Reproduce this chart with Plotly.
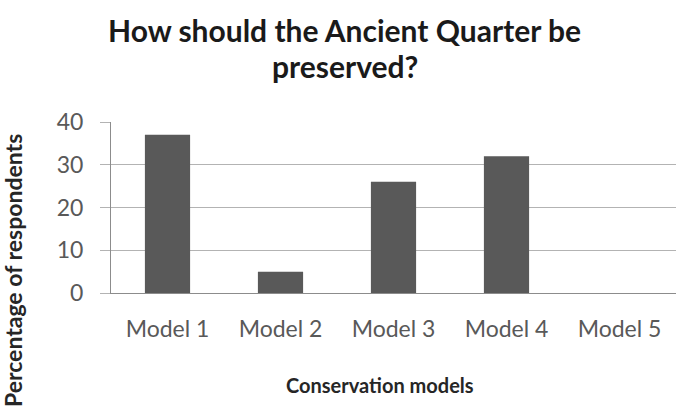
import plotly.graph_objects as go

# Survey results: preferred conservation model for the Ancient Quarter
models = ["Model 1", "Model 2", "Model 3", "Model 4", "Model 5"]
percentages = [37, 5, 26, 32, 0]
y_ticks = [0, 10, 20, 30, 40]

title_lines = ["How should the Ancient Quarter be", "preserved?"]
x_title = "Conservation models"
y_title = "Percentage of respondents"

font_family = "Lato, 'Open Sans', sans-serif"

fig = go.Figure(
    go.Bar(
        x=models,
        y=percentages,
        width=0.4,
        marker=dict(color="#595959", line=dict(width=0)),
    )
)

fig.update_layout(
    width=676,
    height=412,
    margin=dict(l=111, r=0, t=122, b=119),
    paper_bgcolor="white",
    plot_bgcolor="white",
    showlegend=False,
    font=dict(family=font_family, color="#595959", size=23),
)

fig.update_yaxes(
    range=[0, 40],
    tickvals=y_ticks,
    showgrid=True,
    gridcolor="#b3b3b3",
    gridwidth=1,
    showline=True,
    linecolor="#8c8c8c",
    linewidth=1,
    ticks="outside",
    ticklen=10,
    tickcolor="#b3b3b3",
    tickfont=dict(size=23, color="#595959"),
    ticklabelstandoff=12,
    zeroline=False,
)

fig.update_xaxes(
    showline=True,
    linecolor="#8c8c8c",
    linewidth=1,
    ticks="",
    tickfont=dict(size=23, color="#595959"),
    ticklabelstandoff=15,
)

title_font = dict(size=30, color="#1a1a1a", family=font_family, weight="bold")
axis_title_font = dict(size=20, color="#262626", family=font_family, weight="bold")

annotations = [
    dict(
        text=title_lines[0],
        xref="paper", yref="paper", x=0.414, y=1, yshift=92,
        xanchor="center", yanchor="middle", showarrow=False,
        font=title_font,
    ),
    dict(
        text=title_lines[1],
        xref="paper", yref="paper", x=0.414, y=1, yshift=56,
        xanchor="center", yanchor="middle", showarrow=False,
        font=title_font,
    ),
    dict(
        text=x_title,
        xref="paper", yref="paper", x=0.476, y=0, yshift=-92,
        xanchor="center", yanchor="middle", showarrow=False,
        font=axis_title_font,
    ),
    dict(
        text=y_title,
        xref="paper", yref="paper", x=0, xshift=-98, y=0, yshift=22,
        xanchor="center", yanchor="middle", showarrow=False, textangle=-90,
        font=dict(size=23, color="#262626", family=font_family, weight="bold"),
    ),
]
fig.update_layout(annotations=annotations)

fig.write_html("out.html")
